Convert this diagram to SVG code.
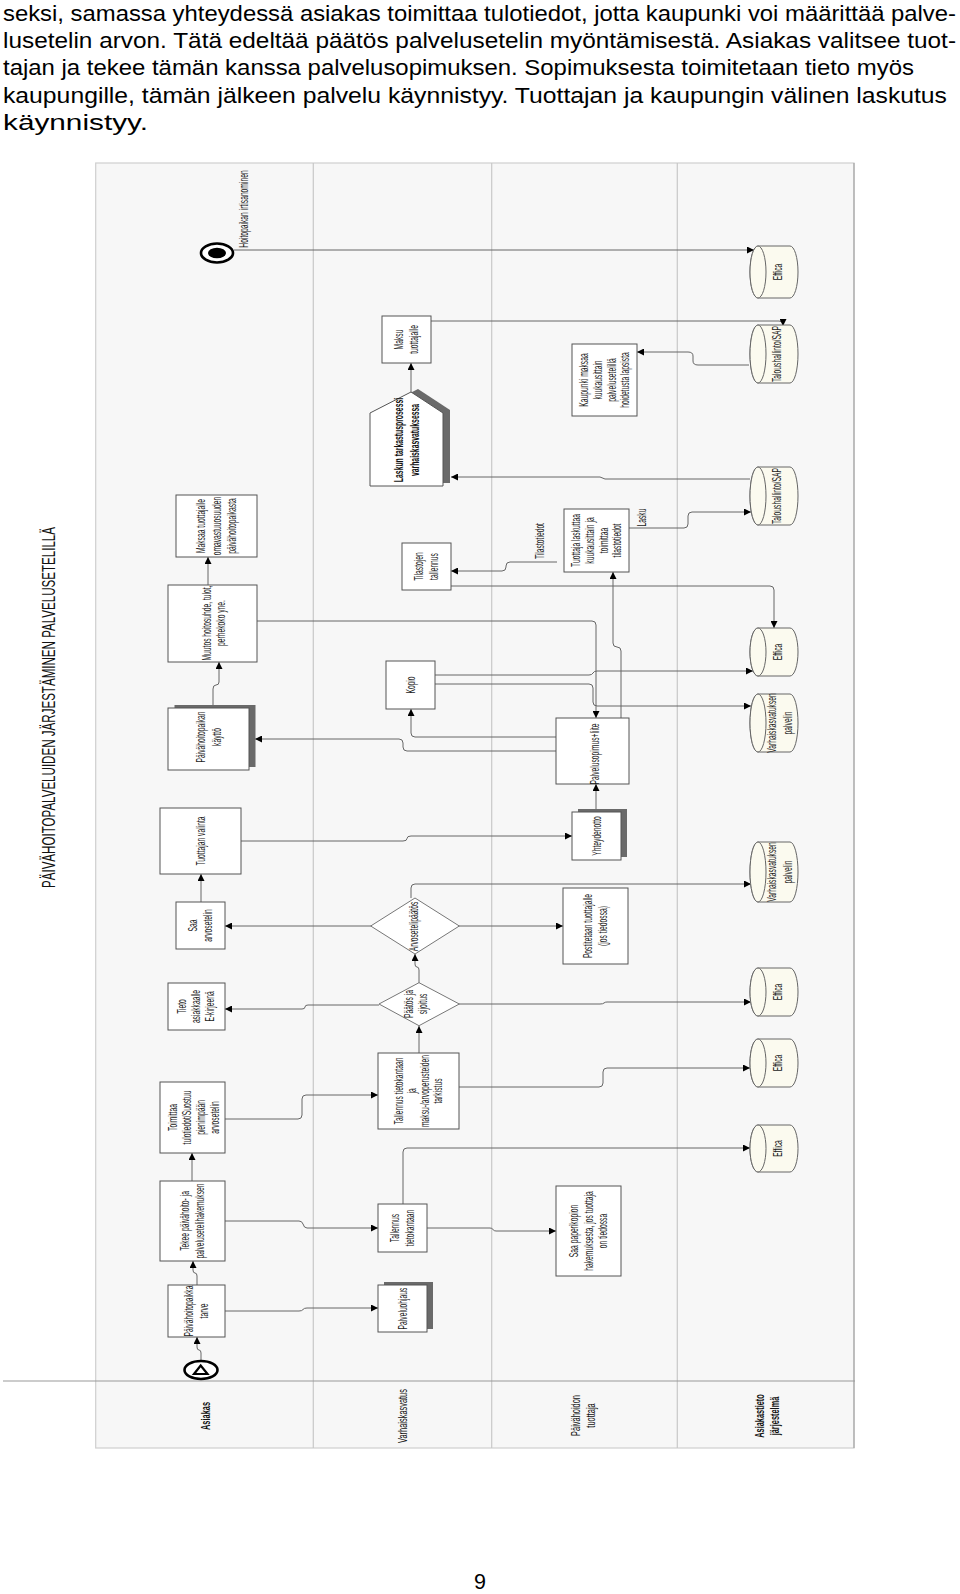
<svg xmlns="http://www.w3.org/2000/svg" width="960" height="1594" viewBox="0 0 960 1594">
<style>
.pg{font-family:"Liberation Sans",Arial,sans-serif;font-size:21.5px;fill:#000}
.t{font-family:"Liberation Sans",Arial,sans-serif;font-size:12px;fill:#222;text-anchor:middle}
.tb{font-family:"Liberation Sans",Arial,sans-serif;font-size:12px;fill:#111;text-anchor:middle;font-weight:bold}
.lh{font-family:"Liberation Sans",Arial,sans-serif;font-size:13px;fill:#111;text-anchor:middle}
.box{fill:#fff;stroke:#555;stroke-width:1}
.sh{fill:#6a6a6a;stroke:none}
.dia{fill:#fff;stroke:#777;stroke-width:1}
.cyl{fill:#fbfaef;stroke:#666;stroke-width:1}
.lane{stroke:#c8c8c8;stroke-width:1.2;fill:none}
.c{fill:none;stroke:#666;stroke-width:1;marker-end:url(#ah)}
.cn{fill:none;stroke:#666;stroke-width:1}
</style>
<defs>
<marker id="ah" viewBox="0 0 8 8" refX="8" refY="4" markerWidth="7" markerHeight="7" markerUnits="userSpaceOnUse" orient="auto"><path d="M0,0 L8,4 L0,8 z" fill="#000"/></marker>
</defs>
<rect width="960" height="1594" fill="#fff"/>
<g id="page-text">
<text class="pg" x="3" y="20.5" textLength="953" lengthAdjust="spacingAndGlyphs">seksi, samassa yhteydessä asiakas toimittaa tulotiedot, jotta kaupunki voi määrittää palve-</text>
<text class="pg" x="3" y="47.9" textLength="953" lengthAdjust="spacingAndGlyphs">lusetelin arvon. Tätä edeltää päätös palvelusetelin myöntämisestä. Asiakas valitsee tuot-</text>
<text class="pg" x="3" y="75.3" textLength="911" lengthAdjust="spacingAndGlyphs">tajan ja tekee tämän kanssa palvelusopimuksen. Sopimuksesta toimitetaan tieto myös</text>
<text class="pg" x="3" y="102.7" textLength="944" lengthAdjust="spacingAndGlyphs">kaupungille, tämän jälkeen palvelu käynnistyy. Tuottajan ja kaupungin välinen laskutus</text>
<text class="pg" x="3" y="130.1" textLength="145" lengthAdjust="spacingAndGlyphs">käynnistyy.</text>
<text class="pg" x="480" y="1589" text-anchor="middle" font-size="18">9</text>
</g>
<g id="title">
<text transform="translate(54.5 707.5) rotate(-90)" text-anchor="middle" font-family="Liberation Sans, Arial, sans-serif" font-size="18" fill="#111" textLength="361" lengthAdjust="spacingAndGlyphs">PÄIVÄHOITOPALVELUIDEN JÄRJESTÄMINEN PALVELUSETELILLÄ</text>
</g>
<g id="lanes">
<rect x="95.7" y="163" width="758.3" height="1285" fill="#f7f7f7" stroke="#cfcfcf" stroke-width="1.2"/>
<line class="lane" x1="313.3" y1="163" x2="313.3" y2="1448"/>
<line class="lane" x1="491.7" y1="163" x2="491.7" y2="1448"/>
<line class="lane" x1="677.3" y1="163" x2="677.3" y2="1448"/>
<line x1="854" y1="163" x2="854" y2="1448" stroke="#999" stroke-width="1"/>
<line x1="3" y1="1381" x2="855" y2="1381" stroke="#999" stroke-width="1.2"/>
<text class="lh" font-weight="bold" transform="translate(205.5 1416) rotate(-90) scale(0.57 1)"><tspan x="0" y="4.5">Asiakas</tspan></text>
<text class="lh" transform="translate(402.5 1416) rotate(-90) scale(0.57 1)"><tspan x="0" y="4.5">Varhaiskasvatus</tspan></text>
<text class="lh" transform="translate(583 1415.5) rotate(-90) scale(0.57 1)"><tspan x="0" y="-3">Päivähoidon</tspan><tspan x="0" y="12">tuottaja</tspan></text>
<text class="lh" font-weight="bold" transform="translate(766.5 1416) rotate(-90) scale(0.57 1)"><tspan x="0" y="-3">Asiakastieto</tspan><tspan x="0" y="12">järjestelmä</tspan></text>
</g>
<g id="connectors">
<path class="c" d="M234 250 H754"/>
<path class="c" d="M411 392 V363"/>
<path class="c" d="M431 321 H779 Q783 321 783 324 V326"/>
<path class="c" d="M749 365 H698 Q693 365 693 361 V356 Q693 352 688 352 H637"/>
<path class="c" d="M750 479 H605 L600 477 H451"/>
<path class="c" d="M629 528 H684 Q688 528 688 524 V516 Q688 512 692 512 H751"/>
<path class="c" d="M557 562 H510 Q506 562 506 566 V567 Q506 571 502 571 H451"/>
<path class="c" d="M451 586 H770 Q774 586 774 590 V628"/>
<path class="c" d="M621 718 V651 Q621 647 617 647 Q613 647 613 643 V572"/>
<path class="c" d="M257 621 H592 Q596 621 596 625 V718"/>
<path class="c" d="M435 675 H589 Q592 675 593 673 Q594 671 597 671 H753"/>
<path class="c" d="M435 684 H589 Q593 684 593 688 V702 Q593 706 597 706 H751"/>
<path class="c" d="M556 737 H415 Q411 737 411 733 V709"/>
<path class="c" d="M556 751 H407 Q403 751 403 747 V743 Q403 739 399 739 H255"/>
<path class="c" d="M241 841 H403 Q407 841 407 838.5 Q407 836 411 836 H572"/>
<path class="c" d="M596 812 V784"/>
<path class="c" d="M213 708 V689 Q213 685 216 685 Q219 685 219 682 V662"/>
<path class="c" d="M208 585 V557"/>
<path class="c" d="M201 902 V874"/>
<path class="c" d="M371 926 H225"/>
<path class="c" d="M411 898 V888 Q411 884 415 884 H751"/>
<path class="c" d="M459 926 H563"/>
<path class="c" d="M419 983 V970 Q419 967 417 967 Q415 967 415 964 V954"/>
<path class="c" d="M379 1005 H308 Q305 1005 305 1007 Q305 1009 302 1009 H225"/>
<path class="c" d="M459 1004 H600 Q603 1004 604 1003 Q605 1002 607 1002 H751"/>
<path class="c" d="M419 1053 V1026"/>
<path class="c" d="M459 1087 H599 Q603 1087 603 1083 V1072 Q603 1068 607 1068 H750"/>
<path class="c" d="M225 1119 H298 Q302 1119 302 1115 V1099 Q302 1095 306 1095 H378"/>
<path class="c" d="M192 1181 V1153"/>
<path class="c" d="M225 1221 H299 Q302 1221 303 1224 Q304 1228 307 1228 H378"/>
<path class="c" d="M403 1204 V1152 Q403 1148 407 1148 H750"/>
<path class="c" d="M427 1228 H490 Q492 1228 493 1229.5 Q494 1231 496 1231 H556"/>
<path class="c" d="M197 1285 V1276 Q197 1273 195 1273 Q193 1273 193 1270 V1261"/>
<path class="c" d="M201 1361 V1353 Q201 1350 199 1350 Q197 1350 197 1347 V1337"/>
<path class="c" d="M225 1311 H299 Q302 1311 303 1309.5 Q304 1308 307 1308 H378"/>
</g>
<g id="end-event">
<ellipse cx="217" cy="253" rx="16" ry="9.5" fill="#fff" stroke="#000" stroke-width="2.6"/>
<ellipse cx="217" cy="253" rx="9" ry="5.3" fill="#000"/>
<text class="t" transform="translate(243.5 209) rotate(-90) scale(0.56 1)"><tspan x="0" y="4">Hoitopaikan irtisanominen</tspan></text>
</g>
<g id="start-event">
<ellipse cx="201" cy="1370" rx="16.5" ry="9" fill="#fff" stroke="#000" stroke-width="2.6"/>
<polygon points="200.7,1365.5 194,1374 207.5,1374" fill="#fff" stroke="#000" stroke-width="2.2" stroke-linejoin="miter"/>
</g>
<g id="maksu-tuottajalle">
<rect class="box" x="382" y="316" width="49" height="47"/>
<text class="t" transform="translate(406.5 339.5) rotate(-90) scale(0.56 1)"><tspan x="0" y="-3.5">Maksu</tspan><tspan x="0" y="11.5">tuottajalle</tspan></text>
</g>
<g id="laskun-tarkastus">
<polygon class="sh" points="377,410 418,389 450,410 450,483 377,483"/>
<polygon class="box" points="370,413 411,392 443,413 443,486 370,486"/>
<text class="tb" transform="translate(407 440) rotate(-90) scale(0.57 1)"><tspan x="0" y="-4">Laskun tarkastusprosessi</tspan><tspan x="0" y="12">varhaiskasvatuksessa</tspan></text>
</g>
<g id="kaupunki-maksaa">
<rect class="box" x="572" y="344" width="65" height="72"/>
<text class="t" transform="translate(604.5 380) rotate(-90) scale(0.56 1)"><tspan x="0" y="-17">Kaupunki maksaa</tspan><tspan x="0" y="-3">kuukausittain</tspan><tspan x="0" y="11">palvelusetelillä</tspan><tspan x="0" y="25">hoidetusta lapsista</tspan></text>
</g>
<g id="maksaa-omavastuu">
<rect class="box" x="176" y="495" width="81" height="62"/>
<text class="t" transform="translate(216.5 526) rotate(-90) scale(0.56 1)"><tspan x="0" y="-12">Maksaa tuottajalle</tspan><tspan x="0" y="4">omavastuuosuuden</tspan><tspan x="0" y="20">päivähoitopaikasta</tspan></text>
</g>
<g id="tilastojen-tallennus">
<rect class="box" x="402" y="543" width="49" height="47"/>
<text class="t" transform="translate(426.5 566.5) rotate(-90) scale(0.56 1)"><tspan x="0" y="-3.5">Tilastojen</tspan><tspan x="0" y="11.5">tallennus</tspan></text>
</g>
<g id="tuottaja-laskuttaa">
<rect class="box" x="564" y="509" width="65" height="63"/>
<text class="t" transform="translate(596.5 540.5) rotate(-90) scale(0.56 1)"><tspan x="0" y="-17">Tuottaja laskuttaa</tspan><tspan x="0" y="-3">kuukausittain ja</tspan><tspan x="0" y="11">toimittaa</tspan><tspan x="0" y="25">tilastotiedot</tspan></text>
</g>
<g id="labels">
<text class="t" transform="translate(641.7 517.5) rotate(-90) scale(0.56 1)"><tspan x="0" y="4">Lasku</tspan></text>
<text class="t" transform="translate(540 541) rotate(-90) scale(0.56 1)"><tspan x="0" y="4">Tilastotiedot</tspan></text>
</g>
<g id="muutos">
<rect class="box" x="168" y="585" width="89" height="77"/>
<text class="t" transform="translate(214 623) rotate(-90) scale(0.56 1)"><tspan x="0" y="-3">Muutos hoitosuhde, tulot,</tspan><tspan x="0" y="11">perhekoko yne.</tspan></text>
</g>
<g id="paivahoitopaikan-kaytto">
<rect class="sh" x="174.5" y="705" width="81" height="62"/>
<rect class="box" x="168" y="708" width="81" height="62"/>
<text class="t" transform="translate(209 737) rotate(-90) scale(0.56 1)"><tspan x="0" y="-4">Päivähoitopaikan</tspan><tspan x="0" y="12">käyttö</tspan></text>
</g>
<g id="kopio">
<rect class="box" x="386" y="661" width="49" height="48"/>
<text class="t" transform="translate(410.5 685) rotate(-90) scale(0.56 1)"><tspan x="0" y="4">Kopio</tspan></text>
</g>
<g id="palvelusopimus">
<rect class="box" x="556" y="718" width="73" height="66"/>
<text class="t" transform="translate(595 754) rotate(-90) scale(0.56 1)"><tspan x="0" y="4">Palvelusopimus+liite</tspan></text>
</g>
<g id="tuottajan-valinta">
<rect class="box" x="160" y="808" width="81" height="66"/>
<text class="t" transform="translate(201 841) rotate(-90) scale(0.56 1)"><tspan x="0" y="4">Tuottajan valinta</tspan></text>
</g>
<g id="yhteydenotto">
<rect class="sh" x="578" y="809" width="49" height="48"/>
<rect class="box" x="572" y="812" width="49" height="48"/>
<text class="t" transform="translate(596.5 836) rotate(-90) scale(0.56 1)"><tspan x="0" y="4">Yhteydenotto</tspan></text>
</g>
<g id="postitetaan">
<rect class="box" x="563" y="888" width="65" height="76"/>
<text class="t" transform="translate(595.5 926) rotate(-90) scale(0.56 1)"><tspan x="0" y="-3.5">Postitetaan tuottajalle</tspan><tspan x="0" y="11.5">(jos tiedossa)</tspan></text>
</g>
<g id="saa-arvosetelin">
<rect class="box" x="176" y="902" width="49" height="47"/>
<text class="t" transform="translate(200.5 925.5) rotate(-90) scale(0.56 1)"><tspan x="0" y="-3.5">Saa</tspan><tspan x="0" y="11.5">arvosetelin</tspan></text>
</g>
<g id="arvosetelipaatos">
<polygon class="dia" points="370.7,926 415,898 459.3,926 415,954"/>
<text class="t" transform="translate(414 926.5) rotate(-90) scale(0.56 1)"><tspan x="0" y="4">Arvosetelipäätös</tspan></text>
</g>
<g id="tieto-asiakkaalle">
<rect class="box" x="168" y="983" width="57" height="47"/>
<text class="t" transform="translate(196.5 1006.5) rotate(-90) scale(0.56 1)"><tspan x="0" y="-11">Tieto</tspan><tspan x="0" y="3.5">asiakkaalle</tspan><tspan x="0" y="18">E-kirjeenä</tspan></text>
</g>
<g id="paatos-sijoitus">
<polygon class="dia" points="379,1004 419,982.7 459.3,1004 419,1025.7"/>
<text class="t" transform="translate(416 1004) rotate(-90) scale(0.56 1)"><tspan x="0" y="-3.5">Päätös ja</tspan><tspan x="0" y="11.5">sijoitus</tspan></text>
</g>
<g id="tallennus-tarkistus">
<rect class="box" x="378" y="1053" width="81" height="76"/>
<text class="t" transform="translate(418.5 1091) rotate(-90) scale(0.56 1)"><tspan x="0" y="-15.5">Tallennus tietokantaan</tspan><tspan x="0" y="-2.5">ja</tspan><tspan x="0" y="10.5">maksu-/arvoperusteiden</tspan><tspan x="0" y="23.5">tarkistus</tspan></text>
</g>
<g id="toimittaa">
<rect class="box" x="160" y="1082" width="65" height="71"/>
<text class="t" transform="translate(194 1117.5) rotate(-90) scale(0.56 1)"><tspan x="0" y="-17">Toimittaa</tspan><tspan x="0" y="-3">tulotiedot/Suostuu</tspan><tspan x="0" y="11">pienimpään</tspan><tspan x="0" y="25">arvosetelin</tspan></text>
</g>
<g id="tekee">
<rect class="box" x="160" y="1181" width="65" height="80"/>
<text class="t" transform="translate(192.5 1221) rotate(-90) scale(0.56 1)"><tspan x="0" y="-4">Tekee päivähoito- ja</tspan><tspan x="0" y="12">palvelusetelihakemuksen</tspan></text>
</g>
<g id="tallennus-tietokantaan">
<rect class="box" x="378" y="1204" width="49" height="48"/>
<text class="t" transform="translate(402.5 1228) rotate(-90) scale(0.56 1)"><tspan x="0" y="-3.5">Tallennus</tspan><tspan x="0" y="11.5">tietokantaan</tspan></text>
</g>
<g id="saa-paperikopion">
<rect class="box" x="556" y="1186" width="65" height="90"/>
<text class="t" transform="translate(588.5 1231) rotate(-90) scale(0.56 1)"><tspan x="0" y="-11">Saa paperikopion</tspan><tspan x="0" y="4">hakemuksesta, jos tuottaja</tspan><tspan x="0" y="19">on tiedossa</tspan></text>
</g>
<g id="paivahoitopaikka-tarve">
<rect class="box" x="168" y="1285" width="57" height="52"/>
<text class="t" transform="translate(196.5 1311) rotate(-90) scale(0.56 1)"><tspan x="0" y="-3.5">Päivähoitopaikka</tspan><tspan x="0" y="11.5">tarve</tspan></text>
</g>
<g id="palveluohjaus">
<rect class="sh" x="384" y="1282" width="49" height="47"/>
<rect class="box" x="378" y="1285" width="49" height="47"/>
<text class="t" transform="translate(402.5 1308.5) rotate(-90) scale(0.56 1)"><tspan x="0" y="4">Palveluohjaus</tspan></text>
</g>
<g id="effica-0">
<path class="cyl" d="M758 246 H790 A8 26 0 0 1 790 298 H758 A8 26 0 0 1 758 246 Z"/>
<ellipse class="cyl" cx="758" cy="272" rx="8" ry="26"/>
<text class="t" transform="translate(778 272) rotate(-90) scale(0.56 1)"><tspan x="0" y="4">Effica</tspan></text>
</g>
<g id="talous-1">
<path class="cyl" d="M758 325 H790 A8 29 0 0 1 790 383 H758 A8 29 0 0 1 758 325 Z"/>
<ellipse class="cyl" cx="758" cy="354" rx="8" ry="29"/>
<text class="t" transform="translate(777 354) rotate(-90) scale(0.56 1)"><tspan x="0" y="4">Taloushallinto/SAP</tspan></text>
</g>
<g id="talous-2">
<path class="cyl" d="M758 467 H790 A8 29 0 0 1 790 525 H758 A8 29 0 0 1 758 467 Z"/>
<ellipse class="cyl" cx="758" cy="496" rx="8" ry="29"/>
<text class="t" transform="translate(777 496) rotate(-90) scale(0.56 1)"><tspan x="0" y="4">Taloushallinto/SAP</tspan></text>
</g>
<g id="effica-1">
<path class="cyl" d="M758 628 H790 A8 24 0 0 1 790 676 H758 A8 24 0 0 1 758 628 Z"/>
<ellipse class="cyl" cx="758" cy="652" rx="8" ry="24"/>
<text class="t" transform="translate(778 652) rotate(-90) scale(0.56 1)"><tspan x="0" y="4">Effica</tspan></text>
</g>
<g id="vkpalvelin-1">
<path class="cyl" d="M758 694 H790 A8 29 0 0 1 790 752 H758 A8 29 0 0 1 758 694 Z"/>
<ellipse class="cyl" cx="758" cy="723" rx="8" ry="29"/>
<text class="t" transform="translate(780 723) rotate(-90) scale(0.56 1)"><tspan x="0" y="-4">Varhaiskasvatuksen</tspan><tspan x="0" y="12">palvelin</tspan></text>
</g>
<g id="vkpalvelin-2">
<path class="cyl" d="M758 842 H790 A8 30 0 0 1 790 902 H758 A8 30 0 0 1 758 842 Z"/>
<ellipse class="cyl" cx="758" cy="872" rx="8" ry="30"/>
<text class="t" transform="translate(780 872) rotate(-90) scale(0.56 1)"><tspan x="0" y="-4">Varhaiskasvatuksen</tspan><tspan x="0" y="12">palvelin</tspan></text>
</g>
<g id="effica-2">
<path class="cyl" d="M758 968 H790 A8 24 0 0 1 790 1016 H758 A8 24 0 0 1 758 968 Z"/>
<ellipse class="cyl" cx="758" cy="992" rx="8" ry="24"/>
<text class="t" transform="translate(778 992) rotate(-90) scale(0.56 1)"><tspan x="0" y="4">Effica</tspan></text>
</g>
<g id="effica-3">
<path class="cyl" d="M758 1039 H790 A8 24 0 0 1 790 1087 H758 A8 24 0 0 1 758 1039 Z"/>
<ellipse class="cyl" cx="758" cy="1063" rx="8" ry="24"/>
<text class="t" transform="translate(778 1063) rotate(-90) scale(0.56 1)"><tspan x="0" y="4">Effica</tspan></text>
</g>
<g id="effica-4">
<path class="cyl" d="M758 1125 H790 A8 23.5 0 0 1 790 1172 H758 A8 23.5 0 0 1 758 1125 Z"/>
<ellipse class="cyl" cx="758" cy="1148.5" rx="8" ry="23.5"/>
<text class="t" transform="translate(778 1148.5) rotate(-90) scale(0.56 1)"><tspan x="0" y="4">Effica</tspan></text>
</g>
</svg>
